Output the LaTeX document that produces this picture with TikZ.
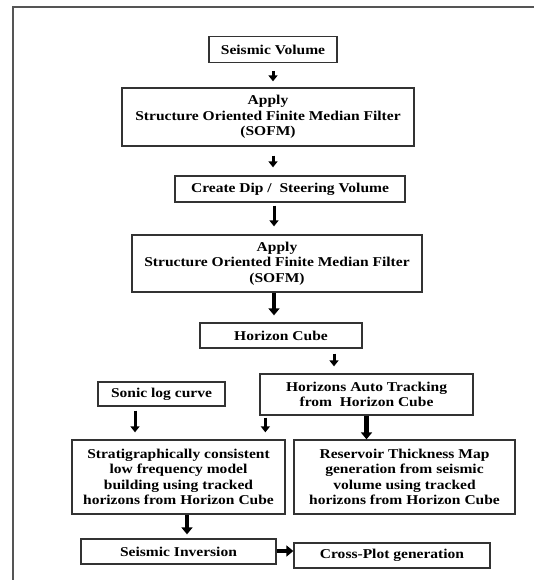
\documentclass[tikz,border=0pt]{standalone}
\usepackage{fontspec}
\setmainfont{Liberation Serif}[FakeStretch=1.15]
\usetikzlibrary{arrows.meta}
\definecolor{boxline}{HTML}{333333}
\definecolor{framecol}{HTML}{555555}
\tikzset{
  box/.style={draw=boxline, line width=1.3pt, inner sep=0pt, align=center,
    font=\fontsize{13.5pt}{15.3pt}\selectfont\bfseries},
  arr/.style={line width=3pt, -{Triangle[length=6pt,width=9pt]}},
  tharr/.style={line width=4.5pt, -{Triangle[length=7pt,width=11pt]}},
}
\begin{document}
\begin{tikzpicture}[x=1pt,y=-1pt]
\useasboundingbox (0,0) rectangle (533,580);
\draw[framecol, line width=1.5pt] (13,581) -- (13,7) -- (534,7);

\node[box, minimum width=128pt, minimum height=25.5pt] (sv) at (273,49.5) {Seismic Volume};
\node[box, minimum width=292pt, minimum height=58pt] (sofm1) at (268,117) {Apply\\Structure Oriented Finite Median Filter\\(SOFM)};
\node[box, minimum width=230pt, minimum height=26pt] (dip) at (290,189) {Create Dip /\ \ Steering Volume};
\node[box, minimum width=290pt, minimum height=57pt] (sofm2) at (277,263.5) {Apply\\Structure Oriented Finite Median Filter\\(SOFM)};
\node[box, minimum width=162pt, minimum height=25pt] (cube) at (281,335.5) {Horizon Cube};
\node[box, minimum width=213pt, minimum height=41pt] (auto) at (366.5,394.5) {Horizons Auto Tracking\\from\ \ Horizon Cube};
\node[box, minimum width=127pt, minimum height=24pt] (sonic) at (161.5,394) {Sonic log curve};
\node[box, minimum width=213pt, minimum height=74pt] (strat) at (178.5,477) {Stratigraphically consistent\\low frequency model\\building using tracked\\horizons from Horizon Cube};
\node[box, minimum width=221pt, minimum height=74pt] (res) at (404.5,477) {Reservoir Thickness Map\\generation from seismic\\volume using tracked\\horizons from Horizon Cube};
\node[box, minimum width=195pt, minimum height=25pt] (si) at (178.5,551.5) {Seismic Inversion};
\node[box, minimum width=196pt, minimum height=25pt] (cp) at (392,555.5) {Cross-Plot generation};

\draw[arr, shorten <=8pt, shorten >=6pt] (sv.south) -- (sv.south |- sofm1.north);
\draw[arr, shorten <=9pt, shorten >=8pt] ([xshift=5pt]sofm1.south) -- ([xshift=5pt]sofm1.south |- dip.north);
\draw[arr, shorten <=3pt, shorten >=8pt] ([xshift=-16pt]dip.south) -- ([xshift=-16pt]dip.south |- sofm2.north);
\draw[tharr, shorten >=7pt] ([xshift=-3pt]sofm2.south) -- ([xshift=-3pt]sofm2.south |- cube.north);
\draw[arr, shorten <=5pt, shorten >=7pt] ([xshift=53pt]cube.south) -- ([xshift=53pt]cube.south |- auto.north);
\draw[arr, shorten <=4pt, shorten >=7pt] ([xshift=-26.5pt]sonic.south) -- ([xshift=-26.5pt]sonic.south |- strat.north);
\draw[arr, shorten <=2pt, shorten >=7pt] ([xshift=6pt]auto.south west) -- ([xshift=6pt]auto.south west |- strat.north);
\draw[tharr] (auto.south) -- (auto.south |- res.north);
\draw[tharr, shorten >=4pt] ([xshift=8.5pt]strat.south) -- ([xshift=8.5pt]strat.south |- si.north);
\draw[tharr] ([yshift=0.5pt]si.east) -- ([yshift=0.5pt]si.east -| cp.west);
\end{tikzpicture}
\end{document}
